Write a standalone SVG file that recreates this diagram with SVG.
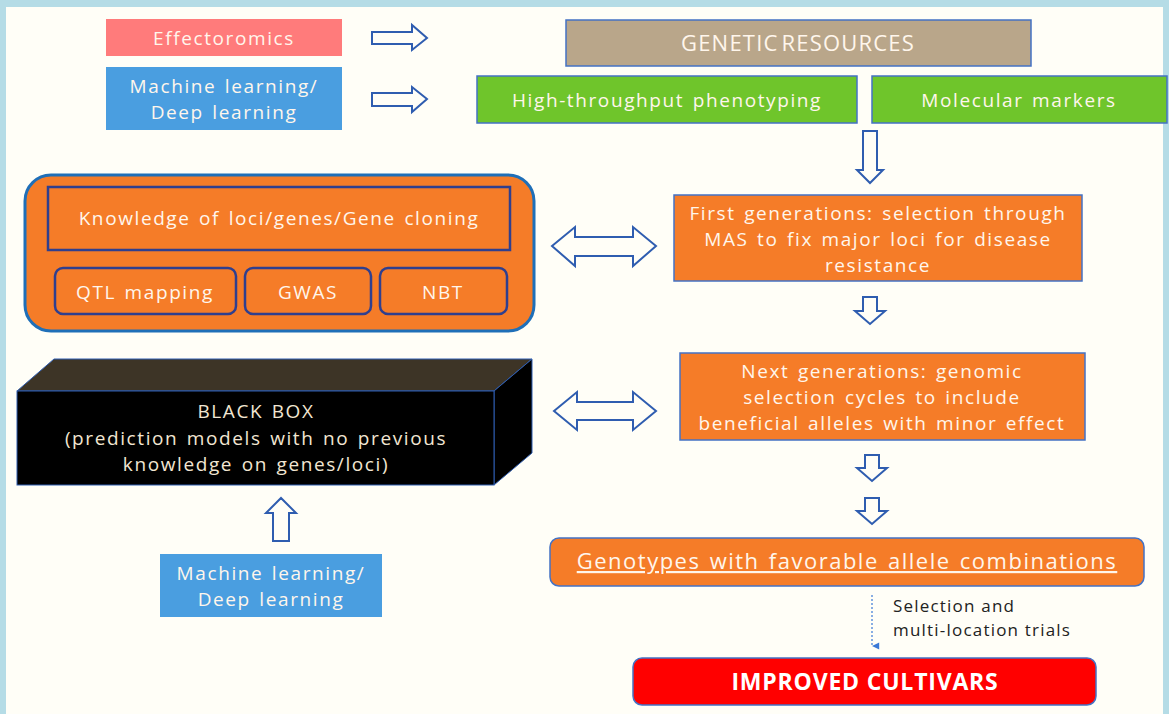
<svg xmlns="http://www.w3.org/2000/svg" width="1169" height="714" viewBox="0 0 1169 714">
<defs>
<style>
.t{font-family:"Open Sans","Liberation Sans",sans-serif;fill:#fff6ec;text-anchor:middle;font-size:19px;letter-spacing:1.6px;word-spacing:2px}
.bx{stroke:#4472c4;stroke-width:1.5}
.arr{fill:#fffef7;stroke:#2f5db0;stroke-width:2;stroke-linejoin:miter}
.or{fill:#f57c28}
.sm{font-family:"Open Sans","Liberation Sans",sans-serif;font-size:17px;letter-spacing:1.2px;fill:#222}
.bb{fill:#f2e6d2}
</style>
<marker id="dh" viewBox="0 0 10 10" refX="5" refY="9" markerWidth="9" markerHeight="9" orient="auto-start-reverse" markerUnits="userSpaceOnUse">
<path d="M1,1 L9,1 L5,9 Z" fill="#3a78d6"/>
</marker>
</defs>
<rect x="0" y="0" width="1169" height="714" fill="#b5dce6"/>
<rect x="6" y="7" width="1157" height="707" fill="#fffef7"/>

<g id="effectoromics">
<rect x="106" y="19" width="236" height="37" fill="#ff7b7b"/>
<text class="t" x="224" y="45">Effectoromics</text>
</g>
<g id="ml-top">
<rect x="106" y="67" width="236" height="63" fill="#4a9ee0"/>
<text class="t" x="224" y="93">Machine learning/</text>
<text class="t" x="224" y="119">Deep learning</text>
</g>
<g id="genetic-resources">
<rect x="566" y="20" width="465" height="46" fill="#b9a68a" class="bx"/>
<text class="t" x="798" y="51" style="font-size:22px;letter-spacing:1.2px;word-spacing:-4px">GENETIC RESOURCES</text>
</g>
<g id="phenotyping">
<rect x="477" y="76" width="380" height="47" fill="#6fc52b" class="bx"/>
<text class="t" x="667" y="107">High-throughput phenotyping</text>
</g>
<g id="markers">
<rect x="872" y="76" width="295" height="47" fill="#6fc52b" class="bx"/>
<text class="t" x="1019" y="107">Molecular markers</text>
</g>
<g id="knowledge">
<rect x="25" y="175" width="509" height="156" rx="26" class="or" stroke="#1f6fb8" stroke-width="3"/>
<rect x="48" y="187" width="462" height="63" class="or" stroke="#2f3f8f" stroke-width="2.5"/>
<text class="t" x="279" y="225">Knowledge of loci/genes/Gene cloning</text>
</g>
<g id="qtl">
<rect x="55" y="268" width="181" height="46" rx="8" class="or" stroke="#2f3f8f" stroke-width="2.5"/>
<text class="t" x="145" y="299">QTL mapping</text>
</g>
<g id="gwas">
<rect x="245" y="268" width="126" height="46" rx="8" class="or" stroke="#2f3f8f" stroke-width="2.5"/>
<text class="t" x="308" y="299">GWAS</text>
</g>
<g id="nbt">
<rect x="380" y="268" width="127" height="46" rx="8" class="or" stroke="#2f3f8f" stroke-width="2.5"/>
<text class="t" x="443" y="299">NBT</text>
</g>
<g id="first-gen">
<rect x="674" y="195" width="408" height="86" class="or bx"/>
<text class="t" x="878" y="220">First generations: selection through</text>
<text class="t" x="878" y="246">MAS to fix major loci for disease</text>
<text class="t" x="878" y="272">resistance</text>
</g>
<g id="black-box">
<path d="M17,391 L54,359 L532,359 L494,391 Z" fill="#3d3426" stroke="#2f5db0" stroke-width="1"/>
<path d="M494,391 L532,359 L532,453 L494,485 Z" fill="#000" stroke="#2f5db0" stroke-width="1"/>
<rect x="17" y="391" width="477" height="94" fill="#000" stroke="#2f5db0" stroke-width="1"/>
<text class="t bb" x="256" y="418">BLACK BOX</text>
<text class="t bb" x="256" y="445">(prediction models with no previous</text>
<text class="t bb" x="256" y="471">knowledge on genes/loci)</text>
</g>
<g id="next-gen">
<rect x="680" y="353" width="405" height="87" class="or bx"/>
<text class="t" x="882" y="378">Next generations: genomic</text>
<text class="t" x="882" y="404">selection cycles to include</text>
<text class="t" x="882" y="430">beneficial alleles with minor effect</text>
</g>
<g id="ml-bottom">
<rect x="160" y="554" width="222" height="63" fill="#4a9ee0"/>
<text class="t" x="271" y="580">Machine learning/</text>
<text class="t" x="271" y="606">Deep learning</text>
</g>
<g id="genotypes">
<rect x="550" y="538" width="594" height="48" rx="9" class="or bx"/>
<text class="t" x="847" y="569" text-decoration="underline" style="font-size:22px;letter-spacing:1.5px;word-spacing:2px">Genotypes with favorable allele combinations</text>
</g>
<g id="improved">
<rect x="633" y="658" width="463" height="47" rx="9" fill="#ff0000" class="bx"/>
<text class="t" x="865" y="690" style="font-size:23px;font-weight:bold;fill:#fff;letter-spacing:0.8px;word-spacing:0">IMPROVED CULTIVARS</text>
</g>
<g id="connectors">
<path class="arr" d="M372,32 H412 V25 L427,38 L412,50 V44 H372 Z"/>
<path class="arr" d="M372,93 H412 V87 L427,99 L412,112 V106 H372 Z"/>
<path class="arr" d="M863,131 H877 V170 H883 L870,183 L857,170 H863 Z"/>
<path class="arr" d="M552,246 L575,227 V237 H633 V227 L656,246 L633,266 V256 H575 V266 Z"/>
<path class="arr" d="M863,297 H877 V311 H885 L870,324 L855,311 H863 Z"/>
<path class="arr" d="M554,411 L577,392 V402 H633 V392 L656,411 L633,430 V420 H577 V430 Z"/>
<path class="arr" d="M865,455 H879 V468 H887 L872,481 L857,468 H865 Z"/>
<path class="arr" d="M865,498 H879 V511 H887 L872,524 L857,511 H865 Z"/>
<path class="arr" d="M273,541 H289 V513 H296 L281,498 L266,513 H273 Z"/>
<line x1="872" y1="595" x2="872" y2="646" stroke="#3a78d6" stroke-width="1.2" stroke-dasharray="2,2" marker-end="url(#dh)"/>
<text class="sm" x="893" y="612">Selection and</text>
<text class="sm" x="893" y="636">multi-location trials</text>
</g>
</svg>
